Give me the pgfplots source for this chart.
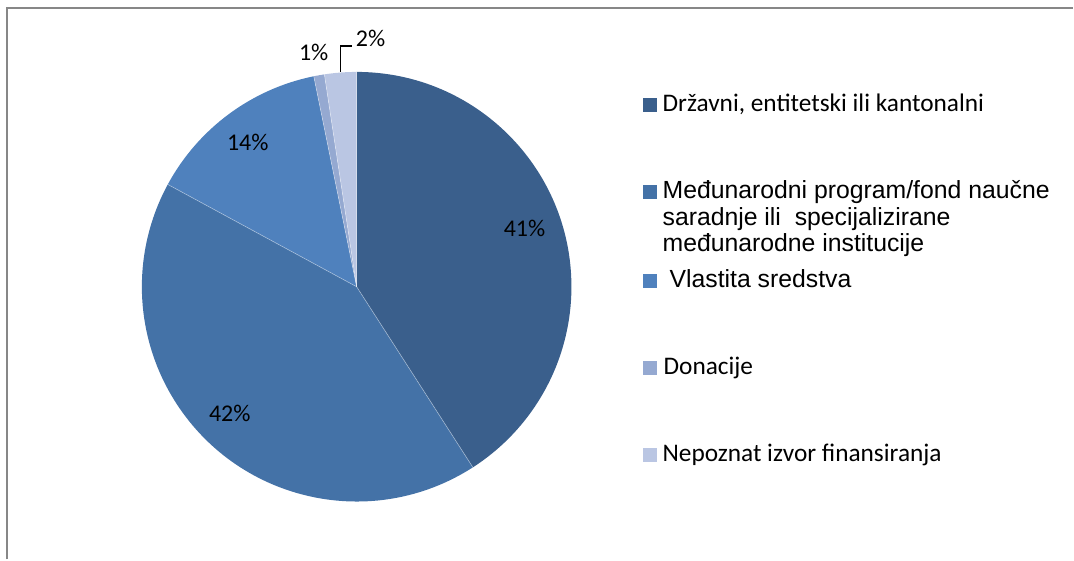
\documentclass[border=0pt]{standalone}
\usepackage{fontspec}
\setmainfont{Carlito}
\newfontfamily\arialf{Liberation Sans}
\usepackage{pgfplots}
\pgfplotsset{compat=1.18}
\definecolor{s1}{RGB}{58,95,140}
\definecolor{s2}{RGB}{68,114,167}
\definecolor{s3}{RGB}{79,129,189}
\definecolor{s4}{RGB}{149,169,209}
\definecolor{s5}{RGB}{186,198,227}
\definecolor{frame}{RGB}{135,135,135}
\newcommand\lblfont{\fontsize{18}{20}\selectfont}
\newcommand\legfont{\fontsize{19}{22}\selectfont}
\newcommand\legfontb{\arialf\fontsize{18.6}{22}\selectfont}
% shares in percent
\def\vA{40.9}\def\vB{42.0}\def\vC{13.9}\def\vD{0.8}\def\vE{2.4}
\def\R{161.25pt}
\begin{document}
\begin{tikzpicture}
\pgfmathsetmacro\aA{90}
\pgfmathsetmacro\aB{\aA-3.6*\vA}
\pgfmathsetmacro\aC{\aB-3.6*\vB}
\pgfmathsetmacro\aD{\aC-3.6*\vC}
\pgfmathsetmacro\aE{\aD-3.6*\vD}
\pgfmathsetmacro\aF{\aE-3.6*\vE}
\begin{axis}[
    scale only axis,
    width=805.5pt, height=420pt,
    xmin=0, xmax=1074, ymin=0, ymax=560,
    y dir=reverse,
    hide axis, clip=false,
    at={(0,0)}, anchor=south west,
]
\path (axis cs:0,0) rectangle (axis cs:1074,560);
\draw[frame, line width=1.6pt] (axis cs:7,560) -- (axis cs:7,8) -- (axis cs:1074,8);

% slices
\fill[s1] (axis cs:357,287) -- ++(\aA:\R) arc[start angle=\aA, end angle=\aB, radius=\R] -- cycle;
\fill[s2] (axis cs:357,287) -- ++(\aB:\R) arc[start angle=\aB, end angle=\aC, radius=\R] -- cycle;
\fill[s3] (axis cs:357,287) -- ++(\aC:\R) arc[start angle=\aC, end angle=\aD, radius=\R] -- cycle;
\fill[s4] (axis cs:357,287) -- ++(\aD:\R) arc[start angle=\aD, end angle=\aE, radius=\R] -- cycle;
\fill[s5] (axis cs:357,287) -- ++(\aE:\R) arc[start angle=\aE, end angle=\aF, radius=\R] -- cycle;
\draw[white, opacity=0.4, line width=0.5pt] (axis cs:357,287) -- ++(\aA:\R);
\draw[white, opacity=0.4, line width=0.5pt] (axis cs:357,287) -- ++(\aB:\R);
\draw[white, opacity=0.4, line width=0.5pt] (axis cs:357,287) -- ++(\aC:\R);
\draw[white, opacity=0.4, line width=0.5pt] (axis cs:357,287) -- ++(\aD:\R);
\draw[white, opacity=0.4, line width=0.5pt] (axis cs:357,287) -- ++(\aE:\R);

% data labels
\node[font=\lblfont, inner sep=0pt] at (axis cs:525,229) {41\%};
\node[font=\lblfont, inner sep=0pt] at (axis cs:230,414) {42\%};
\node[font=\lblfont, inner sep=0pt] at (axis cs:248,143) {14\%};
\node[font=\lblfont, inner sep=0pt] at (axis cs:314,52) {1\%};
\node[font=\lblfont, inner sep=0pt] at (axis cs:371,38) {2\%};
\draw[black, line width=0.9pt] (axis cs:341,72) -- (axis cs:341,46) -- (axis cs:352,46);

% legend
\fill[s1] (axis cs:644,98) rectangle (axis cs:658,112);
\node[anchor=base west, font=\legfont, inner sep=0pt] at (axis cs:663,112) {Državni, ent{}itetski ili kantonalni};
\fill[s2] (axis cs:644,185) rectangle (axis cs:658,199);
\node[anchor=base west, font=\legfontb, inner sep=0pt] at (axis cs:663,199) {Međunarodni program/fond naučne};
\node[anchor=base west, font=\legfontb, inner sep=0pt] at (axis cs:663,225.5) {saradnje ili~ specijalizirane};
\node[anchor=base west, font=\legfontb, inner sep=0pt] at (axis cs:663,252) {međunarodne institucije};
\fill[s3] (axis cs:644,274) rectangle (axis cs:658,288);
\node[anchor=base west, font=\legfontb, inner sep=0pt] at (axis cs:670,288) {Vlastita sredstva};
\fill[s4] (axis cs:644,361) rectangle (axis cs:658,375);
\node[anchor=base west, font=\legfont, inner sep=0pt] at (axis cs:664,375) {Donacije};
\fill[s5] (axis cs:644,448) rectangle (axis cs:658,462);
\node[anchor=base west, font=\legfont, inner sep=0pt] at (axis cs:663,462) {Nepoznat izvor finansiranja};
\end{axis}
\end{tikzpicture}
\end{document}
